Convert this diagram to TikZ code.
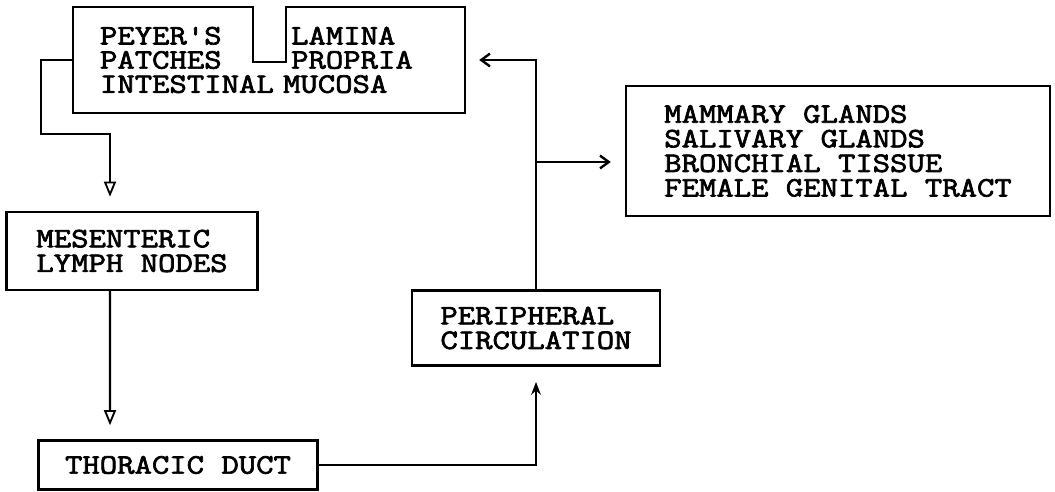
\documentclass[tikz,border=0pt]{standalone}
\usepackage{fontspec}
\newfontfamily\typewriter{Latin Modern Mono}[FakeStretch=1.2, FakeBold=2.5]
\usetikzlibrary{arrows.meta}

\begin{document}
\begin{tikzpicture}[
    box/.style={rectangle, draw, line width=1.7pt, inner sep=0pt, align=left,
        font=\typewriter\fontsize{20}{17.5}\selectfont},
    link/.style={line width=1.7pt},
    down/.style={link, -{Triangle[open, length=0.38cm, width=0.3cm, line width=1.3pt]}, shorten >=0.35cm},
    up/.style={link, -{Stealth[length=0.32cm, width=0.24cm]}, shorten >=0.38cm},
    side/.style={link, -{Straight Barb[length=0.22cm, width=0.32cm]}, shorten >=0.35cm}
]
    \useasboundingbox (0,0) rectangle (26.375,12.3);

    \node[box, draw=none, minimum width=9.75cm, minimum height=2.6cm, text width=8.45cm,
        font=\typewriter\fontsize{20}{17.2}\selectfont] (mucosa) at (6.725,10.8)
        {PEYER'S\hspace*{4\fontcharwd\font`M}LAMINA\\
         PATCHES\hspace*{4\fontcharwd\font`M}PROPRIA\\
         INTESTINAL MUCOSA};
    \draw[link] (mucosa.south west) -- (mucosa.north west) -- ++(4.5,0) -- ++(0,-1.375)
        -- ++(0.825,0) -- ++(0,1.375) -- (mucosa.north east) -- (mucosa.south east) -- cycle;

    \node[box, minimum width=6.275cm, minimum height=1.95cm] (mesenteric) at (3.3,6.025) {MESENTERIC\\LYMPH NODES};
    \node[box, minimum width=6.975cm, minimum height=1.225cm] (thoracic) at (4.45,0.675) {THORACIC DUCT};
    \node[box, minimum width=6.2cm, minimum height=1.875cm] (peripheral) at (13.4,4.1) {PERIPHERAL\\CIRCULATION};
    \node[box, minimum width=10.6cm, minimum height=3.25cm] (glands) at (20.95,8.525)
        {MAMMARY GLANDS\\SALIVARY GLANDS\\BRONCHIAL TISSUE\\FEMALE GENITAL TRACT};
    \coordinate (fork) at (13.4,8.25);

    \draw[down] (mucosa.west) -- ++(-0.8,0) |- ([xshift=-0.55cm, yshift=1.925cm]mesenteric.north)
        -- ([xshift=-0.55cm]mesenteric.north);
    \draw[down] ([xshift=-0.55cm]mesenteric.south) -- ([xshift=-1.7cm]thoracic.north);
    \draw[up] (thoracic.east) -| (peripheral.south);
    \draw[side] (peripheral.north) |- (mucosa.east);
    \draw[side] (fork) -- (fork -| glands.west);
\end{tikzpicture}
\end{document}
